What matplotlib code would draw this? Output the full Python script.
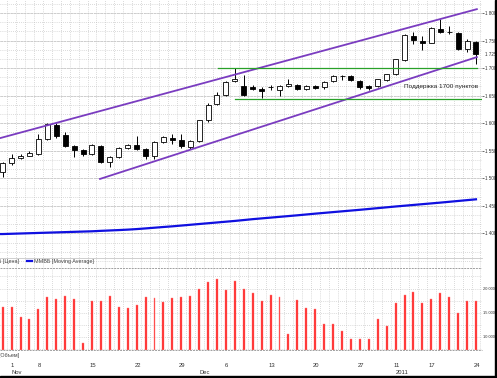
import matplotlib
matplotlib.use('Agg')
import matplotlib.pyplot as plt
import matplotlib.transforms as mtransforms
from matplotlib.patches import Rectangle
import numpy as np

plt.rcParams['font.family'] = ['Liberation Sans', 'DejaVu Sans']

# торговые дни: 29 окт 2010 - 24 янв 2011 (ММВБ)
dates = ['29.10', '01.11', '02.11', '03.11', '08.11', '09.11', '10.11', '11.11', '12.11', '13.11',
         '15.11', '16.11', '17.11', '18.11', '19.11', '22.11', '23.11', '24.11', '25.11', '26.11',
         '29.11', '30.11', '01.12', '02.12', '03.12', '06.12', '07.12', '08.12', '09.12', '10.12',
         '13.12', '14.12', '15.12', '16.12', '17.12', '20.12', '21.12', '22.12', '23.12', '24.12',
         '27.12', '28.12', '29.12', '30.12', '11.01', '12.01', '13.01', '14.01', '17.01', '18.01',
         '19.01', '20.01', '21.01', '24.01']

opens = [1511, 1527, 1537, 1541, 1545, 1571, 1597, 1578, 1558, 1551,
         1545, 1559, 1530, 1539, 1555, 1560, 1554, 1540, 1566, 1574,
         1569, 1557, 1568, 1605, 1635, 1651, 1677, 1667, 1666, 1662,
         1665, 1661, 1667, 1670, 1662, 1667, 1665, 1676, 1685, 1686,
         1677, 1667, 1667, 1679, 1689, 1715, 1759, 1750, 1746, 1771,
         1766, 1764, 1734, 1747]
highs = [1530, 1545, 1544, 1550, 1580, 1600, 1600, 1585, 1560, 1553,
         1563, 1560, 1541, 1557, 1563, 1577, 1556, 1568, 1577, 1580,
         1581, 1570, 1606, 1636, 1657, 1676, 1701, 1687, 1670, 1665,
         1669, 1669, 1680, 1672, 1670, 1669, 1677, 1687, 1687, 1687,
         1678, 1669, 1681, 1690, 1717, 1762, 1765, 1758, 1774, 1789,
         1776, 1766, 1752, 1749]
lows = [1502, 1525, 1535, 1540, 1543, 1570, 1574, 1557, 1539, 1541,
        1542, 1528, 1520, 1537, 1553, 1552, 1535, 1535, 1564, 1562,
        1555, 1553, 1566, 1603, 1633, 1649, 1674, 1650, 1660, 1646,
        1660, 1650, 1665, 1660, 1660, 1662, 1663, 1674, 1678, 1677,
        1663, 1660, 1665, 1677, 1688, 1713, 1743, 1733, 1745, 1763,
        1762, 1733, 1730, 1707]
closes = [1527, 1537, 1541, 1546, 1572, 1598, 1576, 1559, 1552, 1545,
          1561, 1530, 1539, 1555, 1561, 1554, 1540, 1566, 1575, 1569,
          1558, 1568, 1605, 1634, 1651, 1674, 1680, 1652, 1663, 1659,
          1666, 1667, 1671, 1662, 1668, 1664, 1675, 1685, 1686, 1679,
          1666, 1664, 1680, 1689, 1716, 1761, 1751, 1746, 1773, 1766,
          1765, 1734, 1749, 1725]

moving_avg = [1399, 1399.5, 1400, 1400.5, 1401, 1401.5, 1402, 1402.5, 1403, 1403.5,
              1404, 1404.8, 1405.5, 1406.2, 1407, 1408, 1409.2, 1410.5, 1411.8, 1413,
              1414.4, 1415.8, 1417.2, 1418.6, 1420, 1421.4, 1422.8, 1424.4, 1426, 1427.4,
              1428.8, 1430.2, 1431.6, 1433, 1434.5, 1436, 1437.4, 1438.8, 1440.2, 1441.6,
              1443, 1444.5, 1446, 1447.5, 1449, 1450.4, 1451.8, 1453.2, 1454.6, 1456,
              1457.5, 1459, 1460.5, 1462]

volumes = [16200, 16200, 14100, 13700, 15700, 18300, 17900, 18400, 17900, 8700,
           17300, 17500, 18400, 16100, 16000, 16600, 18200, 18000, 17200, 18000,
           18300, 18400, 20000, 21400, 22000, 19700, 21600, 20000, 19000, 17400,
           18600, 18300, 10500, 17700, 16000, 15800, 12700, 12600, 11100, 9500,
           9500, 9500, 13600, 12200, 16900, 18600, 19200, 17000, 17800, 19100,
           18200, 15000, 17500, 17300]

# подписи по оси X
tick_idx = [1, 4, 10, 15, 20, 25, 30, 35, 40, 44, 48, 53]
tick_labels = ['1', '8', '15', '22', '29', '6', '13', '20', '27', '11', '17', '24']
month_idx = [1, 22, 44]
month_labels = ['Nov', 'Dec', '2011']

price_ticks = [1400, 1450, 1500, 1550, 1600, 1650, 1700, 1750, 1800]
vol_ticks = [10000, 15000, 20000]

# каналы и уровни (ручные линии на графике)
upper_channel = ([-0.3, 53.1], [1573, 1807])
lower_channel = ([10.9, 53.1], [1499, 1720])
resist_level = ([24.1, 53.1], [1700, 1700])
support_level = ([26.0, 53.6], [1644, 1644])
note_text = 'Поддержка 1700 пунктов'
last_label = '1 725'

W, H = 497, 378
AX_R = 482
fig = plt.figure(figsize=(W / 100, H / 100), dpi=100)
ax_p = fig.add_axes([0, (H - 268) / H, AX_R / W, 268 / H])
ax_v = fig.add_axes([0, (H - 350) / H, AX_R / W, 82 / H])

x = np.arange(len(dates))
o = np.array(opens)
c = np.array(closes)
xl = (-0.3, -0.3 + AX_R / 8.93)

grid_kw = dict(color='#b8b8b8', lw=0.5, ls=(0, (1, 2)))
for ax in (ax_p, ax_v):
    ax.set_xlim(*xl)
    for sp in ax.spines.values():
        sp.set_visible(False)
    for xi in np.arange(-0.5, 54, 1):
        ax.axvline(xi, zorder=0, **grid_kw)

ax_p.set_ylim(1337.4, 1823.6)
for yy in np.arange(1350, 1825, 16.67):
    ax_p.axhline(yy, zorder=0, **grid_kw)
for yy in price_ticks:
    ax_p.axhline(yy, color='#c8c8c8', lw=0.6, ls=(0, (3, 1)), zorder=0)

# свечи
ax_p.vlines(x, lows, highs, color='black', lw=0.7, zorder=2)
body_h = np.maximum(np.abs(c - o), 0.6)
body_b = np.minimum(o, c)
cols = ['white' if cc >= oo else 'black' for oo, cc in zip(o, c)]
ax_p.bar(x, body_h, bottom=body_b, width=0.56, color=cols, edgecolor='black', lw=0.6, zorder=3)

ax_p.plot(np.r_[-0.3, x], np.r_[moving_avg[0], moving_avg], color='#1010e0', lw=1.6, zorder=2)

purple = '#7a3cc0'
ax_p.plot(*upper_channel, color=purple, lw=1.3, zorder=4)
ax_p.plot(*lower_channel, color=purple, lw=1.3, zorder=4)
ax_p.plot(*resist_level, color='#28a028', lw=0.9, zorder=4)
ax_p.plot(*support_level, color='#28a028', lw=0.9, zorder=4)
ax_p.text(44.9, 1666, note_text, fontsize=4.6, ha='left', va='center', color='#202020', zorder=5)

lab_kw = dict(labelsize=3.3, length=1.5, width=0.5, pad=0.8, colors='#303030')
ax_p.yaxis.tick_right()
ax_p.set_yticks(price_ticks)
ax_p.set_yticklabels(['{:,}'.format(v).replace(',', ' ') for v in price_ticks])
ax_p.tick_params(axis='y', **lab_kw)
ax_p.set_xticks([])
ax_p.text(1.0065, 1725, last_label,
          transform=mtransforms.blended_transform_factory(ax_p.transAxes, ax_p.transData),
          fontsize=3.3, va='center', ha='left', color='#303030')

# легенда цены
fig.text(19 / W, 1 - 261 / H, 'ММВБ [Цена]', fontsize=3.9, ha='right', va='center', color='#404040')
fig.lines.append(plt.Line2D([27 / W, 32 / W], [1 - 261 / H] * 2, transform=fig.transFigure,
                            color='#1010e0', lw=1.6))
fig.text(33.5 / W, 1 - 261 / H, 'ММВБ [Moving Average]', fontsize=3.9, ha='left', va='center', color='#404040')
fig.lines.append(plt.Line2D([0, AX_R / W], [1 - 257.5 / H] * 2, transform=fig.transFigure,
                            color='#c8c8c8', lw=0.6))

# объем
ax_v.set_ylim(7190, 24270)
for yy in np.arange(7500, 24270, 2500):
    ax_v.axhline(yy, zorder=0, **grid_kw)
ax_v.axhline(24270, color='#a0a0a0', lw=0.7, ls=(0, (2, 1)), zorder=1)
ax_v.bar(x, np.array(volumes) - 7190, bottom=7190, width=0.22, color='#ff2a2a',
         edgecolor='#ff8080', lw=0.3, zorder=2)
ax_v.yaxis.tick_right()
ax_v.set_yticks(vol_ticks)
ax_v.set_yticklabels(['{:,}'.format(v).replace(',', ' ') for v in vol_ticks])
ax_v.tick_params(axis='y', labelsize=2.9, length=0, pad=0.4, colors='#303030')
ax_v.set_xticks([x[i] + 0.1 for i in tick_idx])
ax_v.set_xticklabels(tick_labels)
ax_v.tick_params(axis='x', labelsize=4.2, length=0, pad=9.5, colors='#303030')
ax_v.axhline(7190, color='#a0a0a0', lw=0.7, ls=(0, (2, 1)), zorder=1, clip_on=False)

fig.text(19 / W, 1 - 356 / H, 'ММВБ [Объем]', fontsize=3.9, ha='right', va='center', color='#404040')
tr = mtransforms.blended_transform_factory(ax_v.transData, fig.transFigure)
for i, lab in zip(month_idx, month_labels):
    ax_v.text(x[i], 1 - 372.5 / H, lab, transform=tr, fontsize=4.2, ha='left', va='center', color='#303030')

# черная рамка справа и снизу
fig.patches.append(Rectangle((494.7 / W, 0), 2.3 / W, 1, transform=fig.transFigure, color='black'))
fig.patches.append(Rectangle((0, 0), 1, 2.5 / H, transform=fig.transFigure, color='black'))

fig.savefig('out.png', dpi=100)
